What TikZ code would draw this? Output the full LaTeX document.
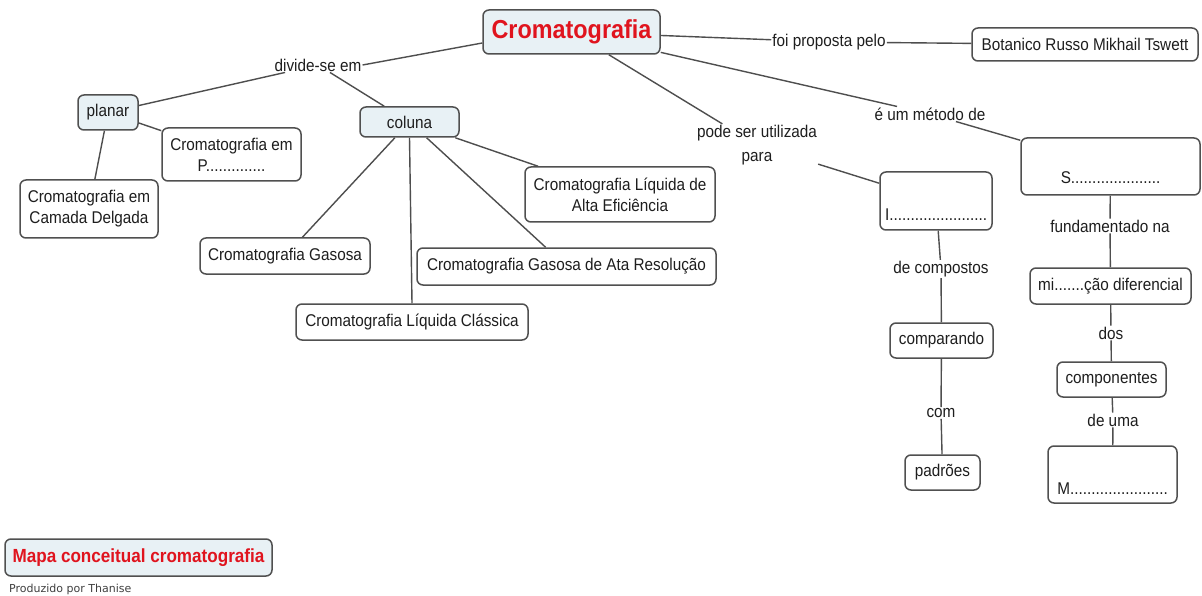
\documentclass[tikz,border=0pt]{standalone}
\usepackage{fontspec}
\setmainfont{Liberation Sans}[FakeStretch=0.9]
\newfontfamily\creditfont{DejaVu Sans}
\definecolor{bordergray}{HTML}{505050}
\definecolor{linegray}{HTML}{4E4E4E}
\definecolor{textgray}{HTML}{1E1E1E}
\definecolor{boxfill}{HTML}{E8F1F5}
\definecolor{titlered}{HTML}{E0141E}
\begin{document}
\begin{tikzpicture}[x=1pt, y=-1pt,
  every node/.style={font=\fontsize{17}{21}\selectfont},
  box/.style={draw=bordergray, line width=1.5pt, rounded corners=6pt, fill=white,
    inner sep=2pt, align=center, text=textgray},
  hbox/.style={box, fill=boxfill},
  lab/.style={inner sep=1pt, align=center, text=textgray},
  link/.style={draw=linegray, line width=1.4pt}]
\path[use as bounding box, fill=white] (0,0) rectangle (1202,596);

% concept boxes
\node[hbox, minimum width=177, minimum height=44, text=titlered,
  font=\bfseries\fontsize{26}{28}\selectfont] (cromat) at (571.5,32) {Cromatografia};
\node[box, minimum width=226, minimum height=33] (tswett) at (1085,44.5) {Botanico Russo Mikhail Tswett};
\node[hbox, minimum width=60, minimum height=35] (planar) at (108,112.5) {planar};
\node[box, minimum width=139, minimum height=53] (cromP) at (231.5,154.5) {Cromatografia em\\P..............};
\node[box, minimum width=138, minimum height=58] (camada) at (89,209) {Cromatografia em\\Camada Delgada};
\node[hbox, minimum width=99, minimum height=30] (coluna) at (409.5,122) {coluna};
\node[box, minimum width=190, minimum height=55] (liqalta) at (620,194.5) {Cromatografia Líquida de\\Alta Eficiência};
\node[box, minimum width=170, minimum height=36] (gasosa) at (285,256) {Cromatografia Gasosa};
\node[box, minimum width=299, minimum height=37] (gasata) at (566.5,266.5) {Cromatografia Gasosa de Ata Resolução};
\node[box, minimum width=232, minimum height=36] (classica) at (412,322) {Cromatografia Líquida Clássica};
\node[box, minimum width=112, minimum height=58] (ibox) at (936,201) {\raisebox{-20pt}[0pt][0pt]{I.......................}};
\node[box, minimum width=179, minimum height=57] (sbox) at (1110.5,166.5) {\raisebox{-17pt}[0pt][0pt]{S.....................}};
\node[box, minimum width=161, minimum height=36] (micao) at (1110.5,286) {mi.......ção diferencial};
\node[box, minimum width=103, minimum height=35] (comparando) at (941.5,340.5) {comparando};
\node[box, minimum width=109, minimum height=35] (componentes) at (1111.5,379.5) {componentes};
\node[box, minimum width=75, minimum height=35] (padroes) at (942.5,472.5) {padrões};
\node[box, minimum width=129, minimum height=57] (mbox) at (1112.5,474.5) {\raisebox{-20pt}[0pt][0pt]{M.......................}};

% linking phrases
\node[lab] (divide) at (318,65) {divide-se em};
\node[lab] (foi) at (829,42) {foi proposta pelo};
\node[lab, font=\fontsize{17}{24}\selectfont] (pode) at (757,145) {pode ser utilizada\\para};
\node[lab] (metodo) at (930,114) {é um método de};
\node[lab] (fund) at (1110,226) {fundamentado na};
\node[lab] (decomp) at (941,269) {de compostos};
\node[lab] (dos) at (1111,333) {dos};
\node[lab] (com) at (941,413) {com};
\node[lab] (deuma) at (1113,420) {de uma};

% connectors
\draw[link] ([yshift=-11pt]cromat.west) -- (divide.east);
\draw[link] (divide) -- (planar);
\draw[link] (divide) -- (coluna);
\draw[link] (planar) -- (cromP);
\draw[link] (planar) -- (camada);
\draw[link] (coluna) -- (liqalta);
\draw[link] (coluna) -- (gasosa);
\draw[link] (coluna.south) -- (classica.north);
\draw[link] (coluna) -- (gasata);
\draw[link] (cromat) -- (foi);
\draw[link] (foi) -- (tswett);
\draw[link] (cromat) -- (pode);
\draw[link] (pode) -- (ibox);
\draw[link] (cromat) -- (metodo);
\draw[link] (metodo) -- (sbox);
\draw[link] (ibox) -- (decomp);
\draw[link] (decomp) -- (comparando);
\draw[link] (comparando) -- (com);
\draw[link] (com) -- (padroes);
\draw[link] (sbox) -- (fund);
\draw[link] (fund) -- (micao);
\draw[link] (micao) -- (dos);
\draw[link] (dos) -- (componentes);
\draw[link] (componentes) -- (deuma);
\draw[link] (deuma) -- (mbox);

% map title and credit
\node[hbox, minimum width=267, minimum height=37, text=titlered,
  font=\bfseries\fontsize{19}{22}\selectfont] (mapa) at (138.5,557.5) {Mapa conceitual cromatografia};
\node[anchor=west, inner sep=0pt, text=black!75,
  font=\creditfont\fontsize{11}{13}\selectfont] (credit) at (9,589) {Produzido por Thanise};
\end{tikzpicture}
\end{document}
